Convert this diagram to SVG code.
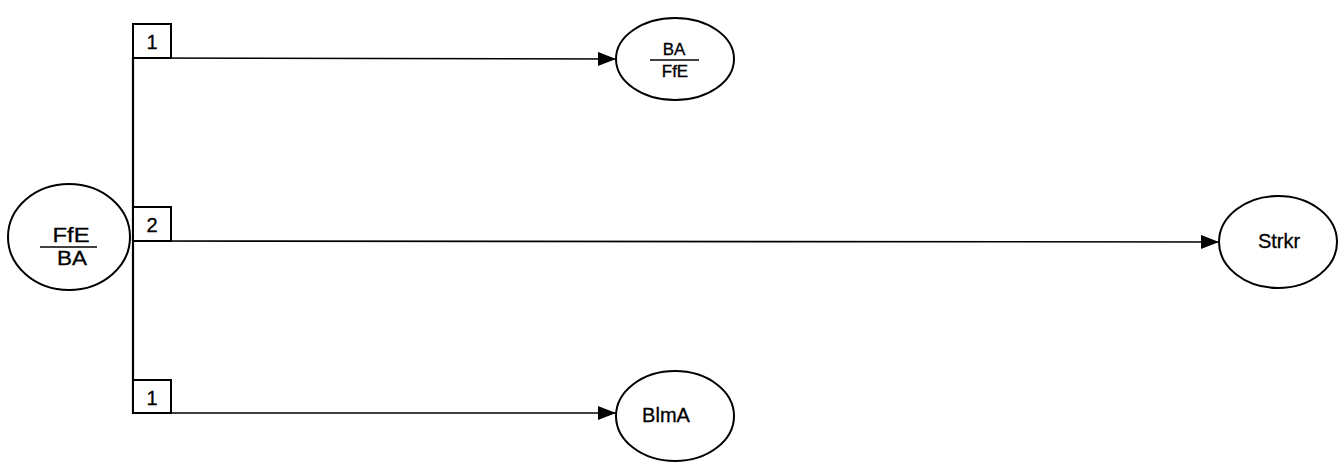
<svg xmlns="http://www.w3.org/2000/svg" width="1339" height="463" viewBox="0 0 1339 463">
<style>
.node{fill:#fff;stroke:#000;stroke-width:2}
.box{fill:#fff;stroke:#000;stroke-width:2}
.t{font-family:"Liberation Sans",Arial,sans-serif;font-size:20px;fill:#000;stroke:#000;stroke-width:0.3;text-anchor:middle}
.ts{font-family:"Liberation Sans",Arial,sans-serif;font-size:17px;fill:#000;stroke:#000;stroke-width:0.3;text-anchor:middle}
.conn{fill:none;stroke:#000;stroke-width:1.6}
.bar{fill:none;stroke:#000;stroke-width:1.5}
</style>
<defs>
<marker id="ah" markerWidth="18" markerHeight="14" refX="18" refY="7" orient="auto" markerUnits="userSpaceOnUse">
<path d="M0,0 L18,7 L0,14 Z" fill="#000"/>
</marker>
</defs>
<rect width="1339" height="463" fill="#fff"/>
<g id="connectors">
<line class="conn" x1="133" y1="57" x2="133" y2="414" style="stroke-width:2.2"/>
<line class="conn" x1="133" y1="58" x2="616" y2="59" marker-end="url(#ah)"/>
<line class="conn" x1="133" y1="241" x2="1219" y2="242" marker-end="url(#ah)"/>
<line class="conn" x1="133" y1="413" x2="616" y2="413" marker-end="url(#ah)"/>
</g>
<g id="label1top">
<rect class="box" x="133" y="24" width="38" height="34"/>
<text class="t" x="152" y="49">1</text>
</g>
<g id="label2">
<rect class="box" x="133" y="207" width="38" height="34"/>
<text class="t" x="152" y="232">2</text>
</g>
<g id="label1bottom">
<rect class="box" x="133" y="380" width="38" height="33"/>
<text class="t" x="152" y="405">1</text>
</g>
<g id="node-ffe-ba">
<ellipse class="node" cx="69" cy="237" rx="61" ry="53"/>
<text class="t" x="71" y="242" textLength="37" lengthAdjust="spacingAndGlyphs">FfE</text>
<line class="bar" x1="40" y1="247" x2="97" y2="247"/>
<text class="t" x="72" y="265" textLength="30" lengthAdjust="spacingAndGlyphs">BA</text>
</g>
<g id="node-ba-ffe">
<ellipse class="node" cx="675" cy="59" rx="59" ry="41"/>
<text class="ts" x="674" y="55">BA</text>
<line class="bar" x1="650" y1="60" x2="699" y2="60"/>
<text class="ts" x="675" y="77">FfE</text>
</g>
<g id="node-strkr">
<ellipse class="node" cx="1278" cy="242" rx="59" ry="46"/>
<text class="t" x="1279" y="248">Strkr</text>
</g>
<g id="node-blma">
<ellipse class="node" cx="675" cy="416" rx="59" ry="45"/>
<text class="t" x="666" y="422">BlmA</text>
</g>
</svg>
